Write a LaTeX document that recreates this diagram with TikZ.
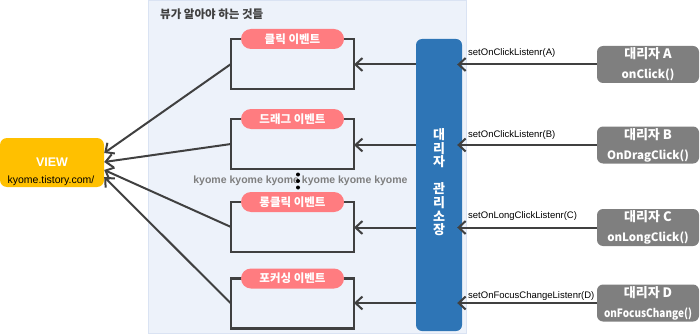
\documentclass[tikz,border=0pt]{standalone}
\usepackage{fontspec}
\setmainfont{Liberation Sans}
\newfontfamily\kr{Noto Sans CJK KR}
\usetikzlibrary{arrows.meta}
\definecolor{panelbg}{HTML}{EDF2FA}
\definecolor{panelln}{HTML}{DAE3F3}
\definecolor{viewy}{HTML}{FFC000}
\definecolor{pillc}{HTML}{FF7C80}
\definecolor{barc}{HTML}{2E75B6}
\definecolor{grayc}{HTML}{7F7F7F}
\definecolor{linec}{HTML}{404040}
\newcommand{\glinea}[1]{{\fontsize{13}{13}\selectfont #1}}
\begin{document}
\begin{tikzpicture}[x=1pt,y=-1pt,
  evbox/.style={draw=linec, line width=2.5pt, minimum width=123pt, minimum height=50pt, inner sep=0pt, outer sep=0pt},
  pill/.style={fill=pillc, rounded corners=10pt, minimum width=103pt, minimum height=20pt, inner sep=0pt, text=white, font=\kr\bfseries\fontsize{11.5}{11}\selectfont},
  gbox/.style={fill=grayc, rounded corners=6pt, minimum width=102pt, minimum height=37pt, inner sep=0pt, text=white, align=center, font=\kr\bfseries\fontsize{11.5}{20}\selectfont},
  bartxt/.style={text=white, inner sep=0pt, font=\kr\bfseries\fontsize{13}{13}\selectfont},
  arr/.style={draw=linec, line width=2pt, -{Straight Barb[length=7pt,width=13pt,line width=2pt]}},
  lab/.style={font=\fontsize{9.5}{10}\selectfont, anchor=base west, inner sep=0pt}
]
\useasboundingbox (0,0) rectangle (700,334);
% panel
\node[fill=panelbg, draw=panelln, line width=0.8pt, minimum width=318pt, minimum height=333pt, inner sep=0pt] (panel) at (307,167) {};
\node[anchor=west, inner sep=0pt, text=linec, font=\kr\bfseries\fontsize{11.5}{11}\selectfont] (title) at (160,14) {뷰가 알아야 하는 것들};

% VIEW
\node[fill=viewy, rounded corners=7pt, minimum width=104pt, minimum height=49pt, inner sep=0pt] (view) at (52,162.5) {};
\node[text=white, inner sep=0pt, font=\bfseries\fontsize{12.5}{12}\selectfont] (vt) at (52,162) {VIEW};
\node[inner sep=0pt, font=\fontsize{10.5}{11}\selectfont] (vu) at (51,180.5) {kyome.tistory.com/};

% event boxes
\node[evbox] (e1) at (292.5,64) {};
\node[evbox] (e2) at (292.5,144) {};
\node[evbox] (e3) at (292.5,227) {};
\node[evbox] (e4) at (292.5,303.5) {};
\node[pill] (p1) at (e1.north) {클릭 이벤트};
\node[pill] (p2) at (e2.north) {드래그 이벤트};
\node[pill] (p3) at (e3.north) {롱클릭 이벤트};
\node[pill] (p4) at (e4.north) {포커싱 이벤트};

% kyome text and dots
\node[inner sep=0pt, text=grayc, font=\bfseries\fontsize{10.5}{11}\selectfont] (ky) at (300.5,181) {kyome kyome kyome kyome kyome kyome};
\node[circle, fill=black, minimum size=4pt, inner sep=0pt] (d1) at (298,174.5) {};
\node[circle, fill=black, minimum size=4pt, inner sep=0pt] (d2) at (298,181) {};
\node[circle, fill=black, minimum size=4pt, inner sep=0pt] (d3) at (298,187.5) {};

% blue bar
\node[fill=barc, rounded corners=6pt, minimum width=46pt, minimum height=292pt, inner sep=0pt] (bar) at (439,185) {};
\foreach \c/\yy [count=\i] in {대/135, 리/148.5, 자/162, 관/189, 리/202.5, 소/216, 장/229.5}
  \node[bartxt] (bt\i) at (439,\yy) {\c};

% gray boxes
\node[gbox] (gA) at (648,64.5) {\glinea{대리자 A}\\onClick()};
\node[gbox] (gB) at (648,145) {\glinea{대리자 B}\\OnDragClick()};
\node[gbox] (gC) at (648,227.5) {\glinea{대리자 C}\\onLongClick()};
\node[gbox] (gD) at (648,303) {\glinea{대리자 D}\\\scalebox{0.87}[1]{onFocusChange()}};

% labels
\node[lab] (lA) at (468,55.5) {setOnClickListenr(A)};
\node[lab] (lB) at (468,137.5) {setOnClickListenr(B)};
\node[lab] (lC) at (468,218.5) {setOnLongClickListenr(C)};
\node[lab] (lD) at (468,298.5) {setOnFocusChangeListenr(D)};

% arrows gray -> bar
\foreach \g in {gA,gB,gC,gD}
  \draw[arr, shorten >=-5pt] (\g.west) -- (\g.west -| bar.east);
% arrows bar -> event boxes
\draw[arr] (gA.west -| bar.west) -- (gA.west -| e1.east);
\draw[arr] (gB.west -| bar.west) -- (gB.west -| e2.east);
\draw[arr] (gC.west -| bar.west) -- (gC.west -| e3.east);
\draw[arr] (gD.west -| bar.west) -- (gD.west -| e4.east);
% event boxes -> VIEW
\draw[arr] (e1.west) -- ([yshift=9.5pt]view.east);
\draw[arr] (e2.west) -- ([yshift=0.5pt]view.east);
\draw[arr] (e3.west) -- ([yshift=-7.5pt]view.east);
\draw[arr] (e4.west) -- ([yshift=-14.5pt]view.east);
\end{tikzpicture}
\end{document}
